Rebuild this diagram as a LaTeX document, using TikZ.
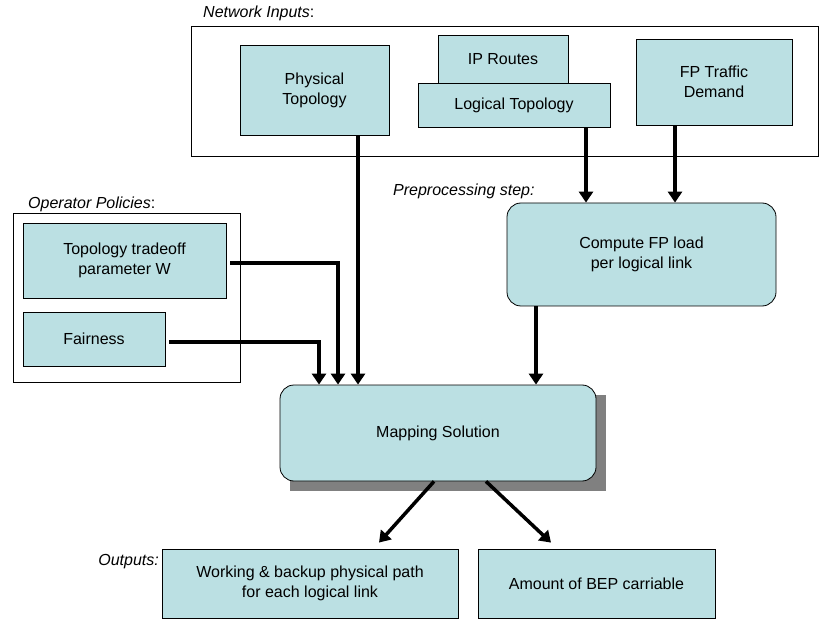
\documentclass[tikz,border=0pt]{standalone}
\usepackage{fontspec}
\setmainfont{Liberation Sans}
\usepackage{tikz}
\usetikzlibrary{arrows.meta,backgrounds}
\definecolor{boxfill}{RGB}{187,224,227}
\tikzset{
	inbox/.style={draw=black, line width=0.8pt, fill=boxfill, align=center, inner sep=0pt},
	rbox/.style={inbox, rounded corners=14pt},
	groupbox/.style={draw=black, line width=0.8pt, fill=white, inner sep=0pt},
	flow/.style={line width=4pt, -{Triangle[width=14pt,length=11pt]}},
	tag/.style={inner sep=0pt},
}

\begin{document}
\begin{tikzpicture}[x=1pt, y=-1pt, font=\fontsize{16}{20}\selectfont]
			%%%%% START %%%%%
			\useasboundingbox (0,0) rectangle (822,620);
			
			% network inputs
			\node[groupbox, minimum width=627pt, minimum height=130pt] (netin) at (504.5,91) {};
			\node[tag, anchor=west] (netlbl) at (203,13) {\textit{Network Inputs}:};
			\node[inbox, minimum width=149pt, minimum height=90pt] (phys) at (314.5,90) {Physical\\Topology};
			\node[inbox, minimum width=130pt, minimum height=48pt] (iproutes) at (503,59) {IP Routes};
			\node[inbox, minimum width=192pt, minimum height=44pt] (logical) at (514,105) {Logical Topology};
			\node[inbox, minimum width=156pt, minimum height=86pt] (fpdemand) at (714,82) {FP Traffic\\Demand};
			
			% preprocessing
			\node[tag, anchor=west] (preplbl) at (393,191) {\textit{Preprocessing step:}};
			\node[rbox, minimum width=269pt, minimum height=103pt] (compute) at (641.5,254.5) {Compute FP load\\per logical link};
			
			% operator policies
			\node[groupbox, minimum width=227pt, minimum height=169pt] (policies) at (126.5,297.5) {};
			\node[tag, anchor=west] (pollbl) at (28,204) {\textit{Operator Policies}:};
			\node[inbox, minimum width=203pt, minimum height=75pt] (tradeoff) at (124.5,260.5) {Topology tradeoff\\parameter W};
			\node[inbox, minimum width=142pt, minimum height=54pt] (fairness) at (94,339) {Fairness};
			
			% mapping
			\node[rbox, minimum width=316pt, minimum height=96pt] (mapping) at (438,433) {Mapping Solution};
			\begin{scope}[on background layer]
				\fill[black!50] ([xshift=10pt,yshift=-10pt]mapping.south west) rectangle ([xshift=10pt,yshift=-10pt]mapping.north east);
			\end{scope}
			
			% outputs
			\node[tag, anchor=east] (outlbl) at (159,562) {\textit{Outputs:}};
			\node[inbox, minimum width=296pt, minimum height=69pt] (working) at (310,583.5) {Working \& backup physical path\\for each logical link};
			\node[inbox, minimum width=237pt, minimum height=69pt] (amount) at (596.5,583.5) {Amount of BEP carriable};
			
			% arrows into mapping
			\coordinate (m1) at ([xshift=-119pt]mapping.north);
			\coordinate (m2) at ([xshift=-100pt]mapping.north);
			\coordinate (m3) at ([xshift=-80pt]mapping.north);
			\coordinate (m4) at ([xshift=98pt]mapping.north);
			\draw[flow] ([xshift=4pt,yshift=-3pt]fairness.east) -| (m1);
			\draw[flow] ([xshift=4pt,yshift=-2.5pt]tradeoff.east) -| (m2);
			\draw[flow] (phys.south -| m3) -- (m3);
			\draw[flow] (compute.south -| m4) -- (m4);
			
			% arrows into compute
			\coordinate (c1) at ([xshift=-55.5pt]compute.north);
			\coordinate (c2) at ([xshift=33.5pt]compute.north);
			\draw[flow] (logical.south -| c1) -- (c1);
			\draw[flow] (fpdemand.south -| c2) -- (c2);
			
			% arrows out of mapping
			\draw[flow, line width=3.5pt] ([xshift=-4pt]mapping.south) -- ([xshift=69pt,yshift=6pt]working.north);
			\draw[flow, line width=3.5pt] ([xshift=48pt]mapping.south) -- ([xshift=-45.5pt,yshift=6pt]amount.north);
			
			%%%%% END %%%%%
		\end{tikzpicture}
\end{document}
